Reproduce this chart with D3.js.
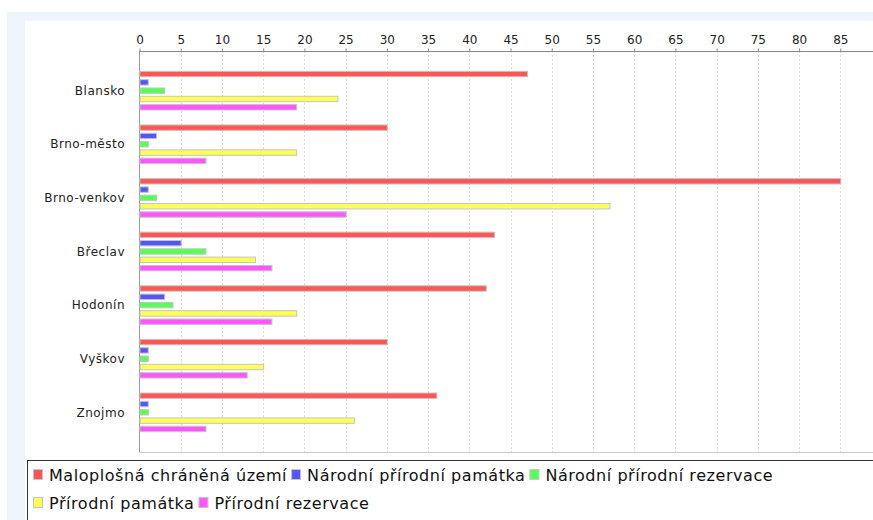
<!DOCTYPE html>
<html>
<head>
<meta charset="utf-8">
<script src="https://cdn.jsdelivr.net/npm/d3@7"></script>
<style>
  body { margin: 0; background: #fff; }
  svg { display: block; font-family: "DejaVu Sans", sans-serif; }
</style>
</head>
<body>
<div id="chart"></div>
<script>
const districts = ['Blansko', 'Brno-město', 'Brno-venkov', 'Břeclav', 'Hodonín', 'Vyškov', 'Znojmo'];
const seriesNames = [
  'Maloplošná chráněná území',
  'Národní přírodní památka',
  'Národní přírodní rezervace',
  'Přírodní památka',
  'Přírodní rezervace'
];
const seriesColors = ['#ff5555', '#5555ff', '#55ff55', '#ffff55', '#ff55ff'];

const maloplosna = [47, 30, 85, 43, 42, 30, 36];
const narodniPamatka = [1, 2, 1, 5, 3, 1, 1];
const narodniRezervace = [3, 1, 2, 8, 4, 1, 1];
const prirodniPamatka = [24, 19, 57, 14, 19, 15, 26];
const prirodniRezervace = [19, 8, 25, 16, 16, 13, 8];

const xTicks = [0, 5, 10, 15, 20, 25, 30, 35, 40, 45, 50, 55, 60, 65, 70, 75, 80, 85];
const xMax = 88.6;

const allSeries = [maloplosna, narodniPamatka, narodniRezervace, prirodniPamatka, prirodniRezervace];

const width = 873, height = 520;
const plot = {left: 139.5, right: 870, top: 51, bottom: 452};

const svg = d3.select('#chart').append('svg')
  .attr('width', width)
  .attr('height', height);

// background panels
svg.append('rect').attr('x', 7).attr('y', 12).attr('width', width - 7).attr('height', height - 12).attr('fill', '#eef5fc');
svg.append('rect').attr('x', 25).attr('y', 21).attr('width', width - 25).attr('height', height - 21).attr('fill', '#fff');

let x = d3.scaleLinear()
  .domain([0, xMax])
  .range([plot.left, plot.right]);

let y = d3.scaleBand()
  .domain(districts)
  .range([plot.top, plot.bottom])
  .paddingInner(0)
  .paddingOuter(0.24);

let yInner = d3.scaleBand()
  .domain(d3.range(seriesNames.length))
  .range([0, y.bandwidth()])
  .paddingInner(0.35)
  .paddingOuter(0.9);

// gridlines
svg.append('g')
  .selectAll('line')
  .data(xTicks.slice(1))
  .enter()
  .append('line')
  .attr('x1', d => Math.round(x(d)) + 0.5)
  .attr('x2', d => Math.round(x(d)) + 0.5)
  .attr('y1', plot.top)
  .attr('y2', plot.bottom)
  .style('stroke', '#d8d8d8')
  .style('stroke-dasharray', '2,2');

// bottom border of plot
svg.append('line')
  .attr('x1', plot.left).attr('x2', width)
  .attr('y1', plot.bottom + 0.5).attr('y2', plot.bottom + 0.5)
  .style('stroke', '#cccccc');

// top axis
const xAxis = svg.append('g')
  .attr('transform', 'translate(0,' + (plot.top + 0.5) + ')')
  .call(d3.axisTop(x).tickValues(xTicks).tickSize(3).tickPadding(5));

xAxis.select('.domain').remove();
xAxis.append('line')
  .attr('x1', plot.left).attr('x2', width)
  .style('stroke', '#888');
xAxis.selectAll('.tick line').style('stroke', '#888');
xAxis.selectAll('.tick text')
  .style('font-family', '"DejaVu Sans", sans-serif')
  .style('font-size', '12px')
  .style('fill', '#222');

// left axis line
svg.append('line')
  .attr('x1', plot.left).attr('x2', plot.left)
  .attr('y1', plot.top).attr('y2', plot.bottom)
  .style('stroke', '#999');

// bars
const groups = svg.append('g')
  .selectAll('g')
  .data(districts)
  .enter()
  .append('g')
  .attr('transform', d => 'translate(0,' + y(d) + ')');

groups.selectAll('rect')
  .data((d, i) => allSeries.map((s, j) => ({series: j, value: s[i]})))
  .enter()
  .append('rect')
  .attr('x', x(0) + 0.5)
  .attr('y', d => yInner(d.series))
  .attr('width', d => x(d.value) - x(0))
  .attr('height', yInner.bandwidth())
  .style('fill', d => seriesColors[d.series])
  .style('stroke', '#c4c4c4');

// category labels
svg.append('g')
  .selectAll('text')
  .data(districts)
  .enter()
  .append('text')
  .attr('x', 125)
  .attr('y', d => y(d) + y.bandwidth() / 2)
  .attr('dy', '0.35em')
  .attr('text-anchor', 'end')
  .style('font-size', '12px')
  .style('letter-spacing', '0.5px')
  .style('fill', '#222')
  .text(d => d);

// legend
svg.append('rect')
  .attr('x', 27.5).attr('y', 460.5)
  .attr('width', width).attr('height', 80)
  .style('fill', '#fff')
  .style('stroke', '#333');

const legend = svg.append('g');
let lx = 33, ly = 475;
const rowGap = 28, maxX = 860;

seriesNames.forEach((name, i) => {
  const item = legend.append('g');
  item.append('rect')
    .attr('x', 0.5).attr('y', -5.5)
    .attr('width', 9).attr('height', 10)
    .style('fill', seriesColors[i])
    .style('stroke', '#c4c4c4');
  const t = item.append('text')
    .attr('x', 16)
    .attr('dy', '0.35em')
    .style('font-size', '16px')
    .style('letter-spacing', '0.55px')
    .style('fill', '#111')
    .text(name);
  const w = 16 + t.node().getComputedTextLength();
  if (lx + w > maxX) { lx = 33; ly += rowGap; }
  item.attr('transform', 'translate(' + lx + ',' + ly + ')');
  lx += w + 4;
});
</script>
</body>
</html>
